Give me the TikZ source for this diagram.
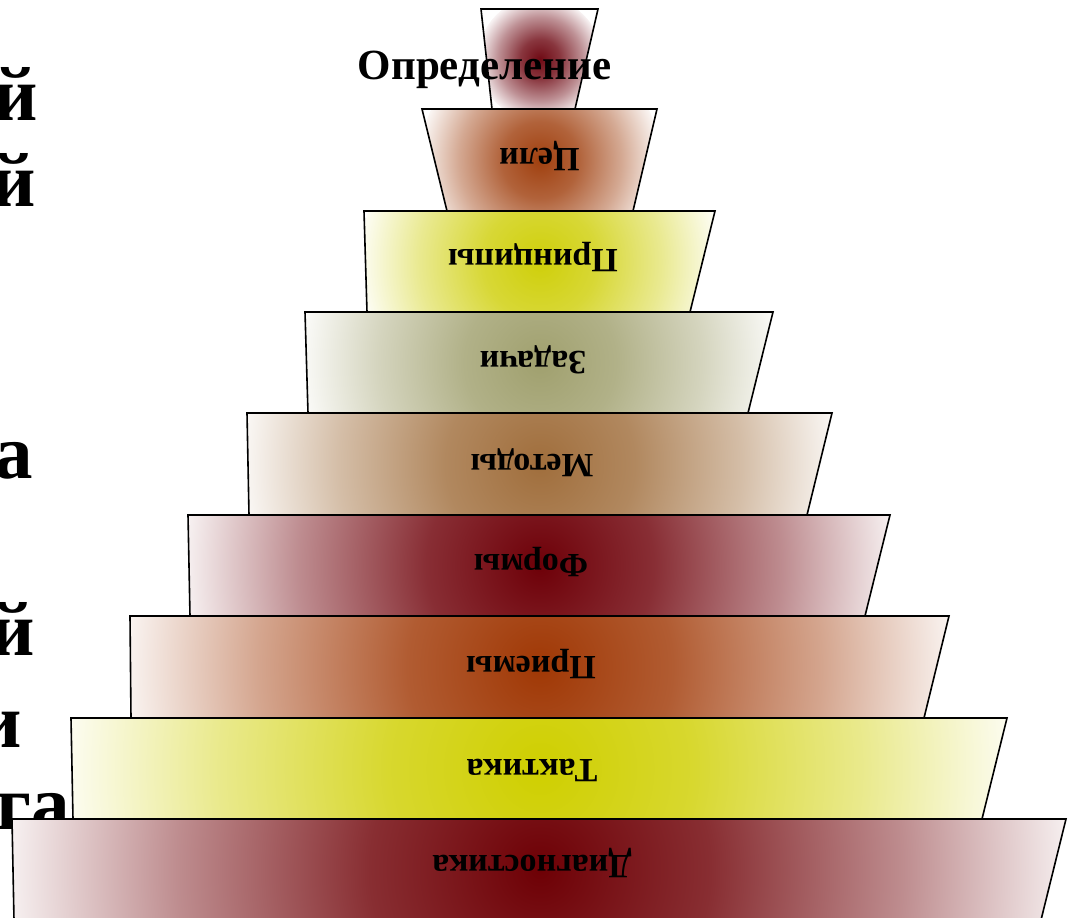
\documentclass[tikz,border=0pt]{standalone}
\usepackage{fontspec}
\setmainfont{Liberation Serif}
\colorlet{pyrc}{red}
\pgfdeclareradialshading[pyrc]{pyrshade}{\pgfpointorigin}{%
  color(0bp)=(pyrc); color(8bp)=(pyrc!82!white); color(17bp)=(pyrc!45!white);
  color(25bp)=(pyrc!5!white); color(50bp)=(white)}
\definecolor{cA}{HTML}{6F0A14}
\definecolor{cB}{HTML}{A0400F}
\definecolor{cC}{HTML}{CFCF0A}
\definecolor{cD}{HTML}{A0A06E}
\definecolor{cE}{HTML}{A06E3C}
\definecolor{cF}{HTML}{6E0008}
\definecolor{cG}{HTML}{A03805}
\definecolor{cH}{HTML}{CFCF00}
\definecolor{cI}{HTML}{6E0005}
\tikzset{
  edgeline/.style={draw=black, line width=1.6pt, line join=miter},
  lbl/.style={font=\bfseries\fontsize{34}{40}\selectfont, rotate=180, inner sep=0pt, text height=22pt, text depth=0pt},
  title/.style={font=\bfseries\fontsize{43}{50}\selectfont, inner sep=0pt},
  bigtxt/.style={font=\bfseries\fontsize{77}{84}\selectfont, inner sep=0pt}
}
\newcommand{\pyrlevel}[8]{% #1 color, #2 x1 #3 x2 #4 ytop, #5 x3 #6 x4 #7 ybot, #8 radius
  \begin{scope}
    \clip (#2,#4) -- (#3,#4) -- (#5,#7) -- (#6,#7) -- cycle;
    \colorlet{pyrc}{#1}
    \shade[shading=pyrshade] (540,{(#4+#7)/2}) circle (#8pt);
  \end{scope}
  \path[edgeline] (#2,#4) -- (#3,#4) -- (#5,#7) -- (#6,#7) -- cycle;
}
\begin{document}
\begin{tikzpicture}[x=1pt,y=-1pt]
\useasboundingbox (0,0) rectangle (1072,918);
\path[clip] (0,0) rectangle (1072,918);
% clipped text at left
\node[bigtxt, anchor=base east] (t1) at (38,120) {й};
\node[bigtxt, anchor=base east] (t2) at (36,206) {й};
\node[bigtxt, anchor=base east] (t3) at (33,478) {а};
\node[bigtxt, anchor=base east] (t4) at (35,655) {й};
\node[bigtxt, anchor=base east] (t5) at (22,747) {и};
\node[bigtxt, anchor=base east] (t6) at (70,829) {ога};
% pyramid levels
\pyrlevel{cA}{481}{598}{9}{575}{492}{109}{62}
\pyrlevel{cB}{422}{657}{109}{633}{447}{211}{120}
\pyrlevel{cC}{364}{715}{211}{690}{367}{312}{179}
\pyrlevel{cD}{305}{773}{312}{748}{308}{413}{238}
\pyrlevel{cE}{247}{832}{413}{807}{249}{515}{297}
\pyrlevel{cF}{188}{890}{515}{865}{190}{616}{356}
\pyrlevel{cG}{130}{949}{616}{924}{131}{718}{415}
\pyrlevel{cH}{71}{1007}{718}{982}{73}{819}{474}
\pyrlevel{cI}{12}{1066}{819}{1041}{14}{920}{533}
% labels
\node[title, anchor=base] (def) at (484.5,79) {Определение};
\node[lbl] (l2) at (539.5,159) {Цели};
\node[lbl] (l3) at (533,260) {Принципы};
\node[lbl] (l4) at (533,362) {Задачи};
\node[lbl] (l5) at (532,465) {Методы};
\node[lbl] (l6) at (531,565) {Формы};
\node[lbl] (l7) at (531,667) {Приемы};
\node[lbl] (l8) at (532,770) {Тактика};
\node[lbl] (l9) at (532,866) {Диагностика};
\end{tikzpicture}
\end{document}
